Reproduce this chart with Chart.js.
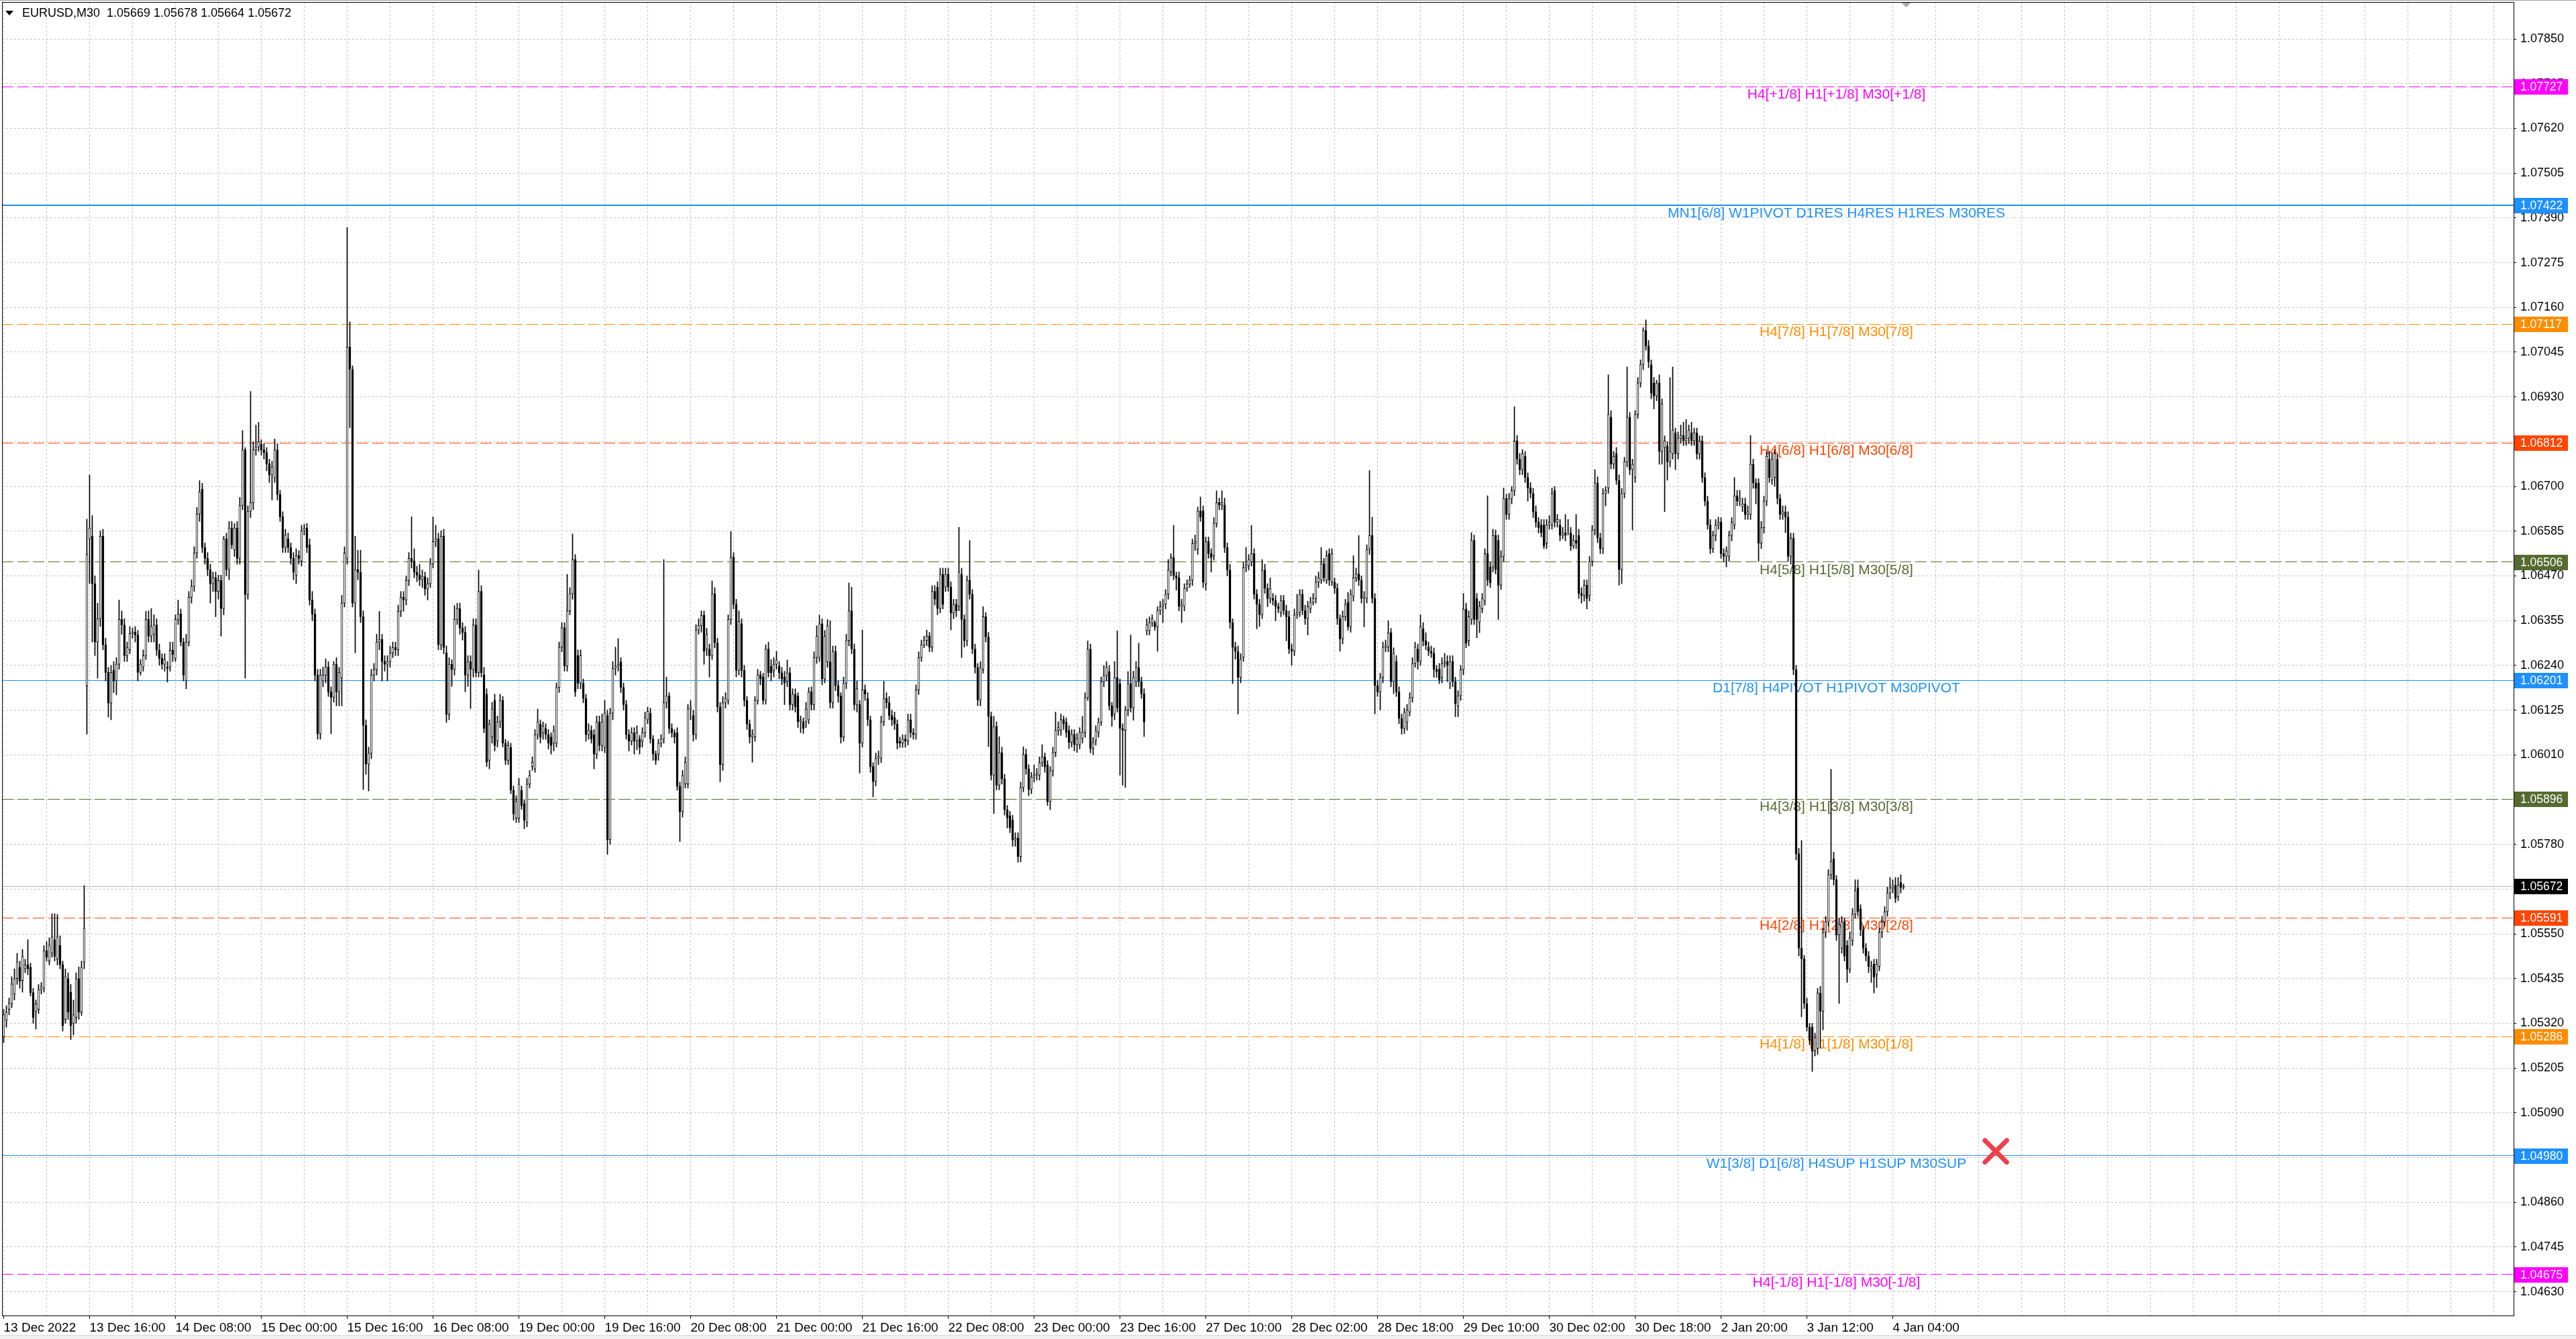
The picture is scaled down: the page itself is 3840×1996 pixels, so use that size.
<!DOCTYPE html>
<html><head><meta charset="utf-8">
<script src="https://cdn.jsdelivr.net/npm/chart.js@4.4.1/dist/chart.umd.min.js"></script>
<style>html,body{margin:0;padding:0;background:#fff;overflow:hidden}canvas{display:block}</style>
</head><body>
<canvas id="c" width="3840" height="1996" style="width:3840px;height:1996px"></canvas>
<script>
const symbolTitle = 'EURUSD,M30';
const lastBar = [1.05669, 1.05678, 1.05664, 1.05672];
const currentPrice = 1.05672;

const opens = [
1.05285,1.05328,1.05356,1.05371,1.05395,1.05435,1.05464,1.05430,1.05460,1.05470,
1.05464,1.05399,1.05350,1.05356,1.05407,1.05410,1.05507,1.05480,1.05500,1.05535,
1.05485,1.05520,1.05471,1.05330,1.05435,1.05400,1.05320,1.05335,1.05435,1.05349,
1.05478,1.06187,1.06565,1.06572,1.06450,1.06300,1.06360,1.06572,1.06293,1.06222,
1.06143,1.06228,1.06200,1.06243,1.06358,1.06344,1.06265,1.06280,1.06322,1.06326,
1.06318,1.06222,1.06236,1.06265,1.06358,1.06315,1.06320,1.06344,1.06279,1.06258,
1.06243,1.06236,1.06236,1.06279,1.06258,1.06358,1.06372,1.06300,1.06200,1.06300,
1.06415,1.06443,1.06529,1.06629,1.06693,1.06543,1.06515,1.06486,1.06450,1.06465,
1.06430,1.06458,1.06386,1.06565,1.06486,1.06593,1.06536,1.06593,1.06515,1.06651,
1.06794,1.06422,1.06636,1.06658,1.06794,1.06801,1.06808,1.06794,1.06787,1.06758,
1.06729,1.06722,1.06794,1.06679,1.06622,1.06543,1.06565,1.06543,1.06515,1.06472,
1.06522,1.06508,1.06586,1.06593,1.06550,1.06408,1.06372,1.06215,1.06064,1.06200,
1.06215,1.06236,1.06172,1.06158,1.06243,1.06172,1.06208,1.06400,1.06515,1.07058,
1.07001,1.06400,1.06486,1.06479,1.06365,1.06086,1.05986,1.06014,1.06215,1.06229,
1.06300,1.06307,1.06250,1.06243,1.06250,1.06272,1.06286,1.06280,1.06379,1.06415,
1.06408,1.06458,1.06515,1.06508,1.06479,1.06472,1.06460,1.06468,1.06436,1.06450,
1.06501,1.06558,1.06565,1.06293,1.06572,1.06272,1.06114,1.06243,1.06229,1.06358,
1.06386,1.06336,1.06325,1.06215,1.06250,1.06229,1.06344,1.06221,1.06430,1.06216,
1.06166,1.05996,1.06056,1.06150,1.06045,1.06095,1.06150,1.06040,1.05996,1.06029,
1.05919,1.05847,1.05847,1.05919,1.05885,1.05836,1.05935,1.05980,1.05974,1.06062,
1.06089,1.06067,1.06078,1.06062,1.06056,1.06040,1.06040,1.06183,1.06287,1.06337,
1.06238,1.06380,1.06424,1.06512,1.06265,1.06194,1.06194,1.06155,1.06062,1.06073,
1.06062,1.06012,1.06095,1.06034,1.06029,1.06111,1.05792,1.06117,1.06232,1.06238,
1.06249,1.06183,1.06139,1.06062,1.06045,1.06067,1.06045,1.06051,1.06045,1.06067,
1.06100,1.06117,1.06051,1.06012,1.06012,1.06040,1.06051,1.06144,1.06161,1.06078,
1.06067,1.06067,1.05929,1.05864,1.05935,1.05935,1.06128,1.06111,1.06062,1.06331,
1.06342,1.06369,1.06282,1.06282,1.06265,1.06424,1.06298,1.06133,1.05985,1.06144,
1.06150,1.06358,1.06518,1.06397,1.06227,1.06347,1.06227,1.06150,1.06089,1.06056,
1.06056,1.06150,1.06216,1.06210,1.06150,1.06282,1.06238,1.06227,1.06243,1.06238,
1.06221,1.06210,1.06199,1.06221,1.06139,1.06166,1.06161,1.06095,1.06095,1.06095,
1.06100,1.06172,1.06139,1.06260,1.06260,1.06347,1.06205,1.06249,1.06249,1.06144,
1.06276,1.06188,1.06161,1.06056,1.06194,1.06304,1.06380,1.06282,1.06139,1.06139,
1.06040,1.06177,1.06155,1.06100,1.05980,1.05941,1.06001,1.06001,1.06095,1.06155,
1.06144,1.06111,1.06106,1.06089,1.06045,1.06040,1.06051,1.06045,1.06100,1.06067,
1.06062,1.06177,1.06260,1.06293,1.06304,1.06315,1.06287,1.06430,1.06441,1.06386,
1.06474,1.06441,1.06474,1.06441,1.06375,1.06397,1.06391,1.06474,1.06358,1.06303,
1.06459,1.06423,1.06282,1.06235,1.06151,1.06230,1.06365,1.06313,1.06109,1.05958,
1.06083,1.05932,1.06016,1.05948,1.05869,1.05854,1.05843,1.05791,1.05796,1.05749,
1.05926,1.06011,1.05974,1.05921,1.05953,1.05958,1.05958,1.05990,1.06005,1.05984,
1.05890,1.05969,1.06016,1.06073,1.06073,1.06101,1.06094,1.06073,1.06042,1.06063,
1.06036,1.06036,1.06052,1.06068,1.06157,1.06282,1.06026,1.06047,1.06068,1.06094,
1.06198,1.06214,1.06224,1.06136,1.06115,1.06209,1.06193,1.06078,1.06073,1.06125,
1.06193,1.06131,1.06198,1.06235,1.06198,1.06167,1.06329,1.06329,1.06350,1.06350,
1.06339,1.06381,1.06391,1.06397,1.06423,1.06480,1.06517,1.06470,1.06465,1.06391,
1.06391,1.06438,1.06449,1.06459,1.06553,1.06538,1.06637,1.06637,1.06449,1.06558,
1.06527,1.06522,1.06605,1.06658,1.06652,1.06652,1.06543,1.06485,1.06350,1.06287,
1.06276,1.06209,1.06261,1.06491,1.06496,1.06506,1.06527,1.06423,1.06397,1.06370,
1.06485,1.06438,1.06412,1.06412,1.06407,1.06391,1.06376,1.06407,1.06381,1.06365,
1.06282,1.06276,1.06370,1.06376,1.06423,1.06381,1.06360,1.06386,1.06402,1.06412,
1.06454,1.06459,1.06501,1.06459,1.06527,1.06454,1.06454,1.06438,1.06360,1.06308,
1.06365,1.06402,1.06339,1.06417,1.06465,1.06475,1.06459,1.06412,1.06412,1.06538,
1.06574,1.06412,1.06188,1.06172,1.06209,1.06287,1.06287,1.06324,1.06198,1.06250,
1.06172,1.06104,1.06078,1.06094,1.06120,1.06157,1.06245,1.06282,1.06250,1.06334,
1.06303,1.06287,1.06276,1.06271,1.06230,1.06230,1.06209,1.06245,1.06250,1.06193,
1.06250,1.06198,1.06135,1.06162,1.06229,1.06385,1.06304,1.06358,1.06561,1.06412,
1.06351,1.06385,1.06405,1.06527,1.06493,1.06493,1.06574,1.06561,1.06446,1.06520,
1.06669,1.06628,1.06669,1.06689,1.06817,1.06770,1.06743,1.06777,1.06723,1.06696,
1.06682,1.06635,1.06608,1.06601,1.06601,1.06554,1.06601,1.06601,1.06689,1.06608,
1.06601,1.06574,1.06581,1.06588,1.06581,1.06547,1.06561,1.06574,1.06425,1.06419,
1.06446,1.06419,1.06507,1.06588,1.06709,1.06567,1.06540,1.06682,1.06696,1.06878,
1.06757,1.06784,1.06716,1.06486,1.06682,1.06763,1.06878,1.06743,1.06723,1.06885,
1.06966,1.07013,1.07101,1.07061,1.07013,1.06966,1.06932,1.06966,1.06790,1.06800,
1.06804,1.06763,1.06784,1.06838,1.06784,1.06824,1.06831,1.06817,1.06824,1.06838,
1.06817,1.06838,1.06784,1.06817,1.06723,1.06662,1.06601,1.06540,1.06574,1.06601,
1.06608,1.06527,1.06520,1.06520,1.06574,1.06601,1.06676,1.06662,1.06648,1.06655,
1.06628,1.06628,1.06757,1.06709,1.06709,1.06554,1.06594,1.06662,1.06770,1.06716,
1.06723,1.06770,1.06669,1.06628,1.06635,1.06621,1.06520,1.06567,1.06229,1.05756,
1.05513,1.05486,1.05371,1.05310,1.05310,1.05249,1.05256,1.05398,1.05351,1.05554,
1.05581,1.05702,1.05743,1.05689,1.05547,1.05513,1.05581,1.05520,1.05459,1.05533,
1.05601,1.05668,1.05614,1.05560,1.05513,1.05493,1.05459,1.05472,1.05445,1.05466,
1.05554,1.05581,1.05607,1.05655,1.05668,1.05675,1.05645,1.05682,1.05669
];

const highs = [
1.05356,1.05365,1.05385,1.05440,1.05460,1.05500,1.05480,1.05510,1.05485,1.05535,
1.05475,1.05410,1.05380,1.05420,1.05425,1.05520,1.05530,1.05540,1.05602,1.05602,
1.05600,1.05545,1.05480,1.05460,1.05450,1.05420,1.05380,1.05450,1.05465,1.05480,
1.05674,1.06616,1.06729,1.06625,1.06470,1.06400,1.06586,1.06590,1.06310,1.06235,
1.06240,1.06250,1.06260,1.06408,1.06380,1.06360,1.06300,1.06340,1.06336,1.06340,
1.06330,1.06255,1.06280,1.06379,1.06380,1.06386,1.06370,1.06360,1.06295,1.06270,
1.06270,1.06250,1.06300,1.06300,1.06370,1.06408,1.06385,1.06310,1.06320,1.06430,
1.06460,1.06545,1.06646,1.06715,1.06708,1.06555,1.06530,1.06500,1.06480,1.06480,
1.06472,1.06472,1.06572,1.06580,1.06610,1.06610,1.06605,1.06610,1.06672,1.06844,
1.06800,1.06650,1.06944,1.06815,1.06858,1.06865,1.06820,1.06810,1.06800,1.06770,
1.06765,1.06822,1.06810,1.06690,1.06635,1.06590,1.06580,1.06555,1.06530,1.06540,
1.06535,1.06600,1.06603,1.06605,1.06565,1.06430,1.06385,1.06230,1.06230,1.06236,
1.06257,1.06250,1.06185,1.06250,1.06260,1.06235,1.06420,1.06545,1.07366,1.07123,
1.07010,1.06572,1.06536,1.06536,1.06380,1.06100,1.06030,1.06230,1.06245,1.06320,
1.06379,1.06320,1.06265,1.06265,1.06290,1.06300,1.06300,1.06395,1.06430,1.06430,
1.06470,1.06530,1.06622,1.06540,1.06495,1.06500,1.06485,1.06480,1.06465,1.06515,
1.06622,1.06600,1.06580,1.06586,1.06590,1.06290,1.06260,1.06255,1.06394,1.06400,
1.06400,1.06350,1.06340,1.06265,1.06265,1.06360,1.06360,1.06485,1.06445,1.06235,
1.06180,1.06100,1.06145,1.06166,1.06110,1.06166,1.06160,1.06050,1.06045,1.06040,
1.05930,1.05905,1.05950,1.05930,1.05895,1.05950,1.05970,1.06005,1.06075,1.06128,
1.06100,1.06095,1.06090,1.06075,1.06067,1.06085,1.06195,1.06300,1.06350,1.06350,
1.06474,1.06440,1.06578,1.06525,1.06280,1.06280,1.06205,1.06166,1.06090,1.06085,
1.06075,1.06110,1.06110,1.06115,1.06150,1.06125,1.06130,1.06250,1.06287,1.06309,
1.06260,1.06195,1.06150,1.06075,1.06080,1.06080,1.06085,1.06060,1.06080,1.06120,
1.06133,1.06130,1.06060,1.06020,1.06050,1.06062,1.06512,1.06210,1.06170,1.06090,
1.06075,1.06080,1.05940,1.05970,1.06005,1.06140,1.06150,1.06125,1.06345,1.06360,
1.06380,1.06380,1.06335,1.06295,1.06457,1.06440,1.06310,1.06145,1.06160,1.06170,
1.06370,1.06584,1.06530,1.06410,1.06380,1.06360,1.06240,1.06160,1.06100,1.06075,
1.06160,1.06230,1.06225,1.06220,1.06293,1.06300,1.06255,1.06260,1.06276,1.06250,
1.06235,1.06225,1.06254,1.06235,1.06180,1.06180,1.06170,1.06110,1.06105,1.06145,
1.06183,1.06185,1.06275,1.06342,1.06369,1.06360,1.06330,1.06358,1.06355,1.06290,
1.06290,1.06200,1.06170,1.06210,1.06320,1.06452,1.06441,1.06295,1.06200,1.06150,
1.06331,1.06190,1.06170,1.06110,1.05990,1.06015,1.06020,1.06110,1.06199,1.06170,
1.06160,1.06125,1.06120,1.06100,1.06056,1.06062,1.06062,1.06115,1.06115,1.06078,
1.06190,1.06275,1.06305,1.06315,1.06331,1.06325,1.06445,1.06445,1.06455,1.06490,
1.06490,1.06490,1.06490,1.06455,1.06410,1.06410,1.06595,1.06490,1.06370,1.06470,
1.06561,1.06435,1.06295,1.06245,1.06250,1.06391,1.06376,1.06325,1.06120,1.06109,
1.06095,1.06057,1.06030,1.05960,1.05880,1.05865,1.05855,1.05810,1.05810,1.05940,
1.06031,1.06025,1.05985,1.05965,1.05984,1.05975,1.06005,1.06036,1.06015,1.05995,
1.05980,1.06030,1.06120,1.06095,1.06115,1.06110,1.06105,1.06085,1.06075,1.06075,
1.06065,1.06080,1.06109,1.06170,1.06303,1.06295,1.06055,1.06085,1.06105,1.06210,
1.06240,1.06250,1.06240,1.06145,1.06250,1.06329,1.06205,1.06090,1.06135,1.06224,
1.06318,1.06225,1.06250,1.06297,1.06210,1.06180,1.06360,1.06365,1.06370,1.06355,
1.06391,1.06405,1.06410,1.06435,1.06512,1.06527,1.06600,1.06480,1.06480,1.06410,
1.06450,1.06460,1.06470,1.06565,1.06575,1.06647,1.06673,1.06650,1.06570,1.06570,
1.06540,1.06620,1.06689,1.06670,1.06689,1.06670,1.06555,1.06500,1.06360,1.06300,
1.06290,1.06270,1.06505,1.06543,1.06525,1.06600,1.06540,1.06435,1.06410,1.06512,
1.06500,1.06450,1.06465,1.06425,1.06420,1.06400,1.06420,1.06420,1.06395,1.06380,
1.06295,1.06385,1.06423,1.06435,1.06435,1.06395,1.06405,1.06415,1.06425,1.06470,
1.06480,1.06543,1.06515,1.06535,1.06540,1.06540,1.06465,1.06450,1.06370,1.06380,
1.06410,1.06428,1.06435,1.06522,1.06490,1.06574,1.06470,1.06430,1.06550,1.06741,
1.06621,1.06425,1.06200,1.06220,1.06300,1.06305,1.06355,1.06335,1.06285,1.06265,
1.06185,1.06115,1.06130,1.06140,1.06170,1.06260,1.06300,1.06295,1.06370,1.06350,
1.06324,1.06300,1.06290,1.06285,1.06240,1.06245,1.06260,1.06271,1.06265,1.06265,
1.06265,1.06210,1.06175,1.06240,1.06425,1.06400,1.06380,1.06581,1.06575,1.06425,
1.06405,1.06425,1.06540,1.06676,1.06505,1.06590,1.06588,1.06575,1.06535,1.06696,
1.06680,1.06682,1.06700,1.06905,1.06831,1.06785,1.06795,1.06790,1.06735,1.06710,
1.06695,1.06650,1.06620,1.06615,1.06615,1.06615,1.06625,1.06696,1.06700,1.06628,
1.06615,1.06595,1.06628,1.06615,1.06595,1.06575,1.06628,1.06590,1.06440,1.06460,
1.06460,1.06520,1.06600,1.06743,1.06725,1.06580,1.06695,1.06700,1.06987,1.06895,
1.06790,1.06800,1.06730,1.06695,1.06775,1.07007,1.06890,1.06770,1.06895,1.06980,
1.07025,1.07108,1.07128,1.07075,1.07025,1.06980,1.06973,1.06987,1.06925,1.06830,
1.06815,1.06980,1.07007,1.06850,1.06840,1.06858,1.06865,1.06872,1.06858,1.06865,
1.06850,1.06850,1.06830,1.06830,1.06735,1.06675,1.06615,1.06585,1.06615,1.06621,
1.06620,1.06540,1.06545,1.06585,1.06620,1.06723,1.06690,1.06690,1.06670,1.06670,
1.06650,1.06831,1.06770,1.06720,1.06720,1.06610,1.06675,1.06790,1.06790,1.06785,
1.06795,1.06784,1.06680,1.06650,1.06650,1.06635,1.06580,1.06580,1.06240,1.05770,
1.05790,1.05495,1.05385,1.05320,1.05320,1.05295,1.05410,1.05415,1.05565,1.05595,
1.05715,1.05973,1.05760,1.05700,1.05590,1.05595,1.05590,1.05533,1.05555,1.05615,
1.05689,1.05689,1.05625,1.05570,1.05525,1.05505,1.05480,1.05485,1.05485,1.05565,
1.05595,1.05620,1.05670,1.05695,1.05689,1.05695,1.05695,1.05702,1.05678
];

const lows = [
1.05270,1.05310,1.05342,1.05360,1.05380,1.05420,1.05410,1.05400,1.05450,1.05445,
1.05390,1.05320,1.05305,1.05345,1.05395,1.05400,1.05480,1.05470,1.05490,1.05480,
1.05470,1.05460,1.05300,1.05320,1.05330,1.05278,1.05290,1.05320,1.05330,1.05340,
1.05460,1.06063,1.06450,1.06300,1.06265,1.06207,1.06340,1.06280,1.06200,1.06107,
1.06100,1.06170,1.06164,1.06230,1.06320,1.06250,1.06250,1.06270,1.06310,1.06300,
1.06200,1.06215,1.06225,1.06255,1.06300,1.06300,1.06300,1.06265,1.06240,1.06230,
1.06225,1.06197,1.06225,1.06250,1.06250,1.06345,1.06290,1.06200,1.06180,1.06290,
1.06400,1.06430,1.06515,1.06610,1.06530,1.06500,1.06470,1.06400,1.06430,1.06365,
1.06410,1.06315,1.06370,1.06470,1.06460,1.06540,1.06520,1.06500,1.06500,1.06640,
1.06207,1.06410,1.06620,1.06640,1.06780,1.06790,1.06780,1.06770,1.06740,1.06710,
1.06665,1.06710,1.06665,1.06610,1.06530,1.06530,1.06530,1.06500,1.06460,1.06450,
1.06500,1.06495,1.06575,1.06530,1.06395,1.06355,1.06200,1.06050,1.06050,1.06185,
1.06195,1.06160,1.06064,1.06145,1.06136,1.06136,1.06136,1.06390,1.06500,1.06851,
1.06390,1.06272,1.06460,1.06350,1.05921,1.05960,1.05917,1.06000,1.06200,1.06215,
1.06280,1.06200,1.06225,1.06200,1.06235,1.06260,1.06265,1.06265,1.06365,1.06379,
1.06395,1.06445,1.06490,1.06465,1.06455,1.06445,1.06440,1.06420,1.06408,1.06440,
1.06490,1.06545,1.06280,1.06280,1.06270,1.06093,1.06100,1.06186,1.06215,1.06345,
1.06320,1.06305,1.06172,1.06186,1.06129,1.06210,1.06210,1.06210,1.06210,1.06067,
1.05980,1.05974,1.06040,1.06020,1.06030,1.06080,1.06030,1.05985,1.05985,1.05910,
1.05842,1.05836,1.05836,1.05870,1.05820,1.05825,1.05925,1.05970,1.05965,1.06050,
1.06040,1.06050,1.06050,1.06025,1.06012,1.06020,1.06030,1.06170,1.06275,1.06225,
1.06225,1.06370,1.06410,1.06160,1.06180,1.06180,1.06144,1.06045,1.06050,1.06040,
1.05974,1.06000,1.06020,1.06020,1.06015,1.05754,1.05780,1.06100,1.06215,1.06225,
1.06170,1.06125,1.06050,1.06020,1.06035,1.06012,1.06023,1.06012,1.06030,1.06055,
1.06090,1.06040,1.05996,1.05985,1.05996,1.06030,1.06040,1.06130,1.06065,1.06055,
1.06040,1.05919,1.05787,1.05850,1.05925,1.05925,1.06100,1.06045,1.06050,1.06320,
1.06325,1.06243,1.06265,1.06210,1.06255,1.06285,1.06120,1.05941,1.05970,1.06130,
1.06140,1.06345,1.06385,1.06210,1.06215,1.06210,1.06135,1.06075,1.06040,1.05991,
1.06045,1.06140,1.06190,1.06140,1.06140,1.06210,1.06200,1.06210,1.06230,1.06205,
1.06190,1.06139,1.06185,1.06125,1.06125,1.06120,1.06080,1.06067,1.06065,1.06080,
1.06090,1.06125,1.06125,1.06245,1.06250,1.06190,1.06195,1.06235,1.06130,1.06130,
1.06175,1.06145,1.06040,1.06045,1.06180,1.06290,1.06270,1.06125,1.06120,1.05963,
1.06030,1.06150,1.06085,1.05965,1.05902,1.05930,1.05985,1.05990,1.06085,1.06130,
1.06100,1.06085,1.06075,1.06025,1.06029,1.06029,1.06030,1.06035,1.06055,1.06050,
1.06050,1.06165,1.06250,1.06285,1.06290,1.06275,1.06275,1.06395,1.06370,1.06375,
1.06385,1.06430,1.06430,1.06331,1.06360,1.06365,1.06380,1.06260,1.06287,1.06290,
1.06410,1.06270,1.06220,1.06136,1.06136,1.06220,1.06300,1.06031,1.05945,1.05859,
1.05920,1.05920,1.05935,1.05855,1.05822,1.05810,1.05775,1.05775,1.05734,1.05735,
1.05915,1.05960,1.05905,1.05910,1.05940,1.05945,1.05945,1.05980,1.05965,1.05880,
1.05869,1.05955,1.06005,1.06060,1.06060,1.06075,1.06055,1.06026,1.06030,1.06020,
1.06016,1.06025,1.06040,1.06055,1.06150,1.06015,1.06010,1.06035,1.06055,1.06085,
1.06185,1.06200,1.06125,1.06083,1.06100,1.06120,1.05958,1.05932,1.05926,1.06110,
1.06120,1.06099,1.06185,1.06185,1.06155,1.06057,1.06318,1.06318,1.06340,1.06330,
1.06276,1.06370,1.06350,1.06385,1.06410,1.06470,1.06460,1.06433,1.06380,1.06350,
1.06380,1.06430,1.06440,1.06445,1.06535,1.06525,1.06610,1.06440,1.06433,1.06515,
1.06480,1.06510,1.06595,1.06640,1.06640,1.06530,1.06470,1.06335,1.06193,1.06256,
1.06115,1.06195,1.06250,1.06480,1.06485,1.06495,1.06410,1.06334,1.06340,1.06360,
1.06425,1.06391,1.06400,1.06395,1.06355,1.06375,1.06365,1.06370,1.06303,1.06270,
1.06240,1.06265,1.06360,1.06365,1.06370,1.06345,1.06318,1.06375,1.06395,1.06400,
1.06440,1.06450,1.06455,1.06450,1.06445,1.06445,1.06425,1.06345,1.06276,1.06295,
1.06355,1.06330,1.06325,1.06405,1.06455,1.06445,1.06400,1.06339,1.06400,1.06525,
1.06400,1.06115,1.06160,1.06125,1.06195,1.06275,1.06275,1.06185,1.06167,1.06160,
1.06090,1.06063,1.06065,1.06073,1.06110,1.06145,1.06235,1.06230,1.06240,1.06290,
1.06280,1.06265,1.06260,1.06209,1.06209,1.06193,1.06195,1.06235,1.06198,1.06180,
1.06185,1.06108,1.06108,1.06150,1.06216,1.06285,1.06290,1.06345,1.06345,1.06311,
1.06324,1.06375,1.06395,1.06445,1.06440,1.06480,1.06475,1.06358,1.06435,1.06507,
1.06615,1.06615,1.06655,1.06676,1.06757,1.06730,1.06730,1.06710,1.06662,1.06670,
1.06620,1.06595,1.06580,1.06570,1.06540,1.06540,1.06590,1.06590,1.06595,1.06595,
1.06560,1.06565,1.06560,1.06575,1.06535,1.06540,1.06540,1.06412,1.06400,1.06405,
1.06385,1.06405,1.06495,1.06575,1.06555,1.06527,1.06527,1.06650,1.06682,1.06745,
1.06745,1.06705,1.06446,1.06450,1.06670,1.06750,1.06730,1.06588,1.06710,1.06875,
1.06955,1.07000,1.07050,1.07005,1.06925,1.06899,1.06920,1.06757,1.06757,1.06635,
1.06716,1.06750,1.06770,1.06743,1.06770,1.06810,1.06805,1.06805,1.06810,1.06805,
1.06805,1.06770,1.06770,1.06710,1.06650,1.06590,1.06527,1.06530,1.06560,1.06590,
1.06515,1.06507,1.06493,1.06507,1.06560,1.06590,1.06650,1.06650,1.06635,1.06615,
1.06615,1.06615,1.06695,1.06655,1.06507,1.06540,1.06580,1.06650,1.06710,1.06705,
1.06700,1.06655,1.06615,1.06615,1.06581,1.06507,1.06500,1.06216,1.05740,1.05493,
1.05337,1.05358,1.05300,1.05265,1.05196,1.05236,1.05240,1.05256,1.05303,1.05540,
1.05570,1.05690,1.05675,1.05533,1.05371,1.05500,1.05480,1.05425,1.05450,1.05520,
1.05590,1.05595,1.05545,1.05500,1.05480,1.05450,1.05425,1.05398,1.05412,1.05455,
1.05540,1.05570,1.05595,1.05640,1.05655,1.05630,1.05635,1.05655,1.05664
];

const closes = [
1.05342,1.05349,1.05371,1.05421,1.05435,1.05478,1.05428,1.05492,1.05470,1.05460,
1.05399,1.05335,1.05370,1.05407,1.05414,1.05507,1.05490,1.05521,1.05542,1.05492,
1.05542,1.05471,1.05314,1.05440,1.05349,1.05314,1.05342,1.05435,1.05349,1.05464,
1.05564,1.06525,1.06593,1.06450,1.06300,1.06360,1.06572,1.06293,1.06222,1.06143,
1.06222,1.06200,1.06243,1.06358,1.06344,1.06265,1.06286,1.06322,1.06326,1.06318,
1.06222,1.06243,1.06265,1.06358,1.06315,1.06340,1.06344,1.06279,1.06258,1.06243,
1.06255,1.06232,1.06279,1.06268,1.06358,1.06372,1.06300,1.06215,1.06300,1.06415,
1.06443,1.06529,1.06629,1.06686,1.06543,1.06515,1.06486,1.06450,1.06465,1.06430,
1.06458,1.06386,1.06565,1.06486,1.06593,1.06550,1.06593,1.06515,1.06651,1.06794,
1.06422,1.06636,1.06658,1.06794,1.06801,1.06815,1.06794,1.06787,1.06758,1.06729,
1.06750,1.06794,1.06679,1.06622,1.06543,1.06575,1.06543,1.06515,1.06479,1.06522,
1.06515,1.06586,1.06593,1.06543,1.06408,1.06372,1.06215,1.06064,1.06215,1.06215,
1.06236,1.06172,1.06158,1.06243,1.06172,1.06222,1.06400,1.06529,1.07058,1.07001,
1.06400,1.06486,1.06479,1.06365,1.06086,1.05986,1.06014,1.06215,1.06229,1.06300,
1.06307,1.06250,1.06243,1.06250,1.06272,1.06286,1.06280,1.06379,1.06415,1.06408,
1.06458,1.06515,1.06508,1.06479,1.06472,1.06460,1.06468,1.06436,1.06450,1.06501,
1.06558,1.06565,1.06293,1.06572,1.06286,1.06114,1.06243,1.06229,1.06358,1.06386,
1.06336,1.06325,1.06215,1.06250,1.06230,1.06344,1.06221,1.06430,1.06221,1.06078,
1.05991,1.06089,1.06128,1.06034,1.06095,1.06150,1.06040,1.05996,1.06034,1.05919,
1.05858,1.05891,1.05935,1.05880,1.05842,1.05935,1.05957,1.05991,1.06062,1.06095,
1.06056,1.06084,1.06062,1.06040,1.06034,1.06073,1.06183,1.06287,1.06337,1.06238,
1.06380,1.06424,1.06512,1.06172,1.06194,1.06265,1.06155,1.06062,1.06073,1.06051,
1.06012,1.06095,1.06034,1.06095,1.06117,1.05792,1.06117,1.06232,1.06238,1.06243,
1.06183,1.06139,1.06062,1.06045,1.06067,1.06045,1.06067,1.06029,1.06067,1.06106,
1.06122,1.06051,1.06012,1.05996,1.06040,1.06051,1.06144,1.06161,1.06078,1.06067,
1.06056,1.05929,1.05864,1.05957,1.05991,1.06128,1.06133,1.06062,1.06331,1.06342,
1.06369,1.06276,1.06320,1.06265,1.06424,1.06298,1.06133,1.05985,1.06144,1.06155,
1.06358,1.06518,1.06397,1.06227,1.06353,1.06227,1.06150,1.06089,1.06056,1.06062,
1.06150,1.06216,1.06205,1.06150,1.06282,1.06221,1.06221,1.06243,1.06254,1.06221,
1.06205,1.06194,1.06221,1.06139,1.06166,1.06133,1.06095,1.06100,1.06078,1.06128,
1.06172,1.06139,1.06260,1.06315,1.06347,1.06205,1.06315,1.06342,1.06144,1.06276,
1.06188,1.06161,1.06056,1.06194,1.06304,1.06380,1.06282,1.06139,1.06180,1.06040,
1.06177,1.06166,1.06100,1.05980,1.05941,1.06001,1.06007,1.06095,1.06155,1.06144,
1.06111,1.06100,1.06089,1.06040,1.06040,1.06051,1.06045,1.06100,1.06067,1.06062,
1.06177,1.06260,1.06293,1.06304,1.06315,1.06287,1.06430,1.06410,1.06386,1.06474,
1.06397,1.06474,1.06441,1.06375,1.06397,1.06380,1.06480,1.06358,1.06304,1.06459,
1.06423,1.06282,1.06235,1.06151,1.06235,1.06365,1.06313,1.06109,1.05958,1.06083,
1.05932,1.06016,1.05948,1.05869,1.05848,1.05822,1.05791,1.05796,1.05749,1.05926,
1.06011,1.05974,1.05921,1.05953,1.05958,1.05963,1.05990,1.06005,1.05979,1.05890,
1.05969,1.06016,1.06073,1.06080,1.06101,1.06090,1.06068,1.06042,1.06063,1.06036,
1.06052,1.06068,1.06068,1.06157,1.06282,1.06026,1.06042,1.06073,1.06094,1.06198,
1.06214,1.06235,1.06136,1.06109,1.06209,1.06131,1.06078,1.06073,1.06125,1.06193,
1.06131,1.06209,1.06235,1.06198,1.06167,1.06094,1.06345,1.06350,1.06360,1.06339,
1.06381,1.06391,1.06397,1.06423,1.06485,1.06517,1.06470,1.06465,1.06391,1.06397,
1.06438,1.06449,1.06459,1.06553,1.06558,1.06637,1.06621,1.06454,1.06558,1.06527,
1.06517,1.06605,1.06658,1.06652,1.06658,1.06543,1.06485,1.06350,1.06287,1.06276,
1.06209,1.06256,1.06491,1.06498,1.06512,1.06527,1.06423,1.06397,1.06370,1.06485,
1.06438,1.06412,1.06438,1.06407,1.06391,1.06386,1.06407,1.06381,1.06365,1.06282,
1.06276,1.06370,1.06376,1.06423,1.06381,1.06360,1.06391,1.06402,1.06412,1.06454,
1.06465,1.06501,1.06465,1.06522,1.06459,1.06527,1.06438,1.06360,1.06308,1.06365,
1.06397,1.06339,1.06423,1.06465,1.06475,1.06459,1.06412,1.06417,1.06538,1.06574,
1.06412,1.06188,1.06172,1.06209,1.06287,1.06292,1.06324,1.06198,1.06271,1.06172,
1.06104,1.06078,1.06120,1.06125,1.06157,1.06245,1.06287,1.06250,1.06339,1.06303,
1.06292,1.06276,1.06271,1.06230,1.06224,1.06203,1.06245,1.06250,1.06240,1.06250,
1.06198,1.06142,1.06162,1.06229,1.06385,1.06297,1.06365,1.06561,1.06358,1.06358,
1.06392,1.06412,1.06527,1.06459,1.06452,1.06574,1.06486,1.06446,1.06520,1.06669,
1.06628,1.06669,1.06689,1.06817,1.06770,1.06743,1.06784,1.06723,1.06696,1.06682,
1.06635,1.06608,1.06594,1.06581,1.06547,1.06601,1.06608,1.06682,1.06608,1.06615,
1.06574,1.06581,1.06574,1.06590,1.06547,1.06561,1.06554,1.06425,1.06419,1.06446,
1.06412,1.06507,1.06588,1.06709,1.06567,1.06540,1.06682,1.06689,1.06885,1.06757,
1.06777,1.06716,1.06486,1.06682,1.06763,1.06878,1.06743,1.06757,1.06885,1.06966,
1.07013,1.07101,1.07061,1.07020,1.06939,1.06932,1.06966,1.06790,1.06912,1.06817,
1.06763,1.06790,1.06845,1.06784,1.06824,1.06831,1.06817,1.06824,1.06845,1.06817,
1.06838,1.06784,1.06817,1.06723,1.06662,1.06601,1.06540,1.06574,1.06601,1.06608,
1.06527,1.06520,1.06534,1.06574,1.06608,1.06676,1.06662,1.06669,1.06655,1.06628,
1.06635,1.06757,1.06709,1.06695,1.06554,1.06594,1.06662,1.06777,1.06723,1.06770,
1.06784,1.06669,1.06628,1.06635,1.06621,1.06520,1.06567,1.06229,1.05756,1.05513,
1.05486,1.05371,1.05310,1.05276,1.05249,1.05283,1.05398,1.05351,1.05554,1.05581,
1.05702,1.05736,1.05689,1.05547,1.05574,1.05581,1.05493,1.05459,1.05540,1.05601,
1.05661,1.05607,1.05560,1.05513,1.05493,1.05466,1.05466,1.05439,1.05472,1.05554,
1.05581,1.05607,1.05655,1.05668,1.05675,1.05641,1.05675,1.05669,1.05672
];

const xTickLabels = ['13 Dec 2022','13 Dec 16:00','14 Dec 08:00','15 Dec 00:00','15 Dec 16:00','16 Dec 08:00',
  '19 Dec 00:00','19 Dec 16:00','20 Dec 08:00','21 Dec 00:00','21 Dec 16:00','22 Dec 08:00','23 Dec 00:00',
  '23 Dec 16:00','27 Dec 10:00','28 Dec 02:00','28 Dec 18:00','29 Dec 10:00','30 Dec 02:00','30 Dec 18:00',
  '2 Jan 20:00','3 Jan 12:00','4 Jan 04:00'];

const yTicks = [1.04630,1.04745,1.04860,1.04975,1.05090,1.05205,1.05320,1.05435,1.05550,1.05665,
  1.05780,1.05895,1.06010,1.06125,1.06240,1.06355,1.06470,1.06585,1.06700,1.06815,1.06930,1.07045,
  1.07160,1.07275,1.07390,1.07505,1.07620,1.07735,1.07850];

const levelValues = [1.07727,1.07422,1.07117,1.06812,1.06506,1.06201,1.05896,1.05591,1.05286,1.04980,1.04675];
const levelLabels = ['H4[+1/8] H1[+1/8] M30[+1/8]','MN1[6/8] W1PIVOT D1RES H4RES H1RES M30RES',
  'H4[7/8] H1[7/8] M30[7/8]','H4[6/8] H1[6/8] M30[6/8]','H4[5/8] H1[5/8] M30[5/8]',
  'D1[7/8] H4PIVOT H1PIVOT M30PIVOT','H4[3/8] H1[3/8] M30[3/8]','H4[2/8] H1[2/8] M30[2/8]',
  'H4[1/8] H1[1/8] M30[1/8]','W1[3/8] D1[6/8] H4SUP H1SUP M30SUP','H4[-1/8] H1[-1/8] M30[-1/8]'];
const levelColors = ['#ff00ff','#1e90ff','#ff8c00','#ff4500','#556b2f','#1e90ff','#556b2f','#ff4500','#ff8c00','#1e90ff','#ff00ff'];
const levelWidths = [1,2,1,1,1,1,1,1,1,1,1];
const levelDashed = [true,false,true,true,true,false,true,true,true,false,true];
const levelLabelBar = 683;

const markX = [742.4];
const markY = [1.04991];

// ---------- chart ----------
Chart.defaults.font.family = '"Liberation Sans", Arial, sans-serif';
const X_MIN = -0.625, X_MAX = 935.375;
const Y_MIN = 1.04569, Y_MAX = 1.07945;
const N = Math.min(opens.length, highs.length, lows.length, closes.length);
const idx = Array.from({length: N}, (_, i) => i);
const wickData = idx.map(i => ({x: i, y: [lows[i], highs[i]]}));
const bodyData = idx.map(i => ({x: i, y: [opens[i], closes[i]]}));
const bodyFill = idx.map(i => closes[i] >= opens[i] ? '#ffffff' : '#000000');

const datasets = [];
levelValues.forEach((v, k) => datasets.push({
  type: 'line', label: 'lvl' + k, _lv: v,
  data: [{x: X_MIN, y: v}, {x: X_MAX, y: v}],
  borderColor: levelColors[k], borderWidth: levelWidths[k],
  borderDash: levelDashed[k] ? [17, 6] : [], pointRadius: 0, order: 10
}));
datasets.push({type: 'line', label: 'current', _lv: currentPrice,
  data: [{x: X_MIN, y: currentPrice}, {x: X_MAX, y: currentPrice}],
  borderColor: '#b4b4b4', borderWidth: 1, pointRadius: 0, order: 9});
datasets.push({type: 'bar', label: 'wicks', data: wickData, backgroundColor: '#000000',
  borderWidth: 0, barThickness: 1, grouped: false, order: 2});
datasets.push({type: 'bar', label: 'bodies', data: bodyData, backgroundColor: bodyFill,
  borderColor: '#000000', borderWidth: 1, borderSkipped: false, barThickness: 3,
  minBarLength: 1, grouped: false, order: 1});
datasets.push({type: 'line', label: 'mark', data: markX.map((x, i) => ({x: x, y: markY[i]})),
  showLine: false, pointStyle: 'crossRot', pointRadius: 23, pointBorderWidth: 7,
  pointBorderColor: '#f0404c', pointBackgroundColor: 'rgba(0,0,0,0)', order: 0, clip: false});

const deco = {
  id: 'deco',
  beforeDatasetDraw(chart, args) {
    const ds = chart.data.datasets[args.index];
    if (ds._lv !== undefined) {
      const py = chart.scales.y.getPixelForValue(ds._lv);
      const w = ds.borderWidth || 1;
      const target = (w % 2 === 1) ? Math.floor(py) + 0.5 : Math.round(py);
      chart.ctx.save();
      chart.ctx.translate(0, target - py);
    }
    if (ds.label === 'mark') { chart.ctx.save(); chart.ctx.lineCap = 'round'; }
  },
  afterDatasetDraw(chart, args) {
    const ds = chart.data.datasets[args.index];
    if (ds._lv !== undefined) chart.ctx.restore();
    if (ds.label === 'mark') chart.ctx.restore();
    if (ds.label === 'current') {
      const ctx = chart.ctx, xs = chart.scales.x, ys = chart.scales.y;
      ctx.save();
      ctx.font = '21px "Liberation Sans", Arial, sans-serif';
      ctx.textAlign = 'center';
      ctx.textBaseline = 'middle';
      const cx = xs.getPixelForValue(levelLabelBar);
      levelValues.forEach((v, k) => {
        ctx.fillStyle = levelColors[k];
        ctx.fillText(levelLabels[k], cx, Math.round(ys.getPixelForValue(v)) + 12);
      });
      ctx.restore();
    }
  },
  afterDraw(chart) {
    const ctx = chart.ctx, ys = chart.scales.y, a = chart.chartArea;
    ctx.save();
    ctx.fillStyle = '#f0f0f0';
    ctx.fillRect(0, 1991, 3840, 5);
    ctx.strokeStyle = '#a0a0a0'; ctx.lineWidth = 1;
    ctx.beginPath(); ctx.moveTo(0, 0.5); ctx.lineTo(3840, 0.5); ctx.stroke();
    ctx.strokeStyle = '#d8d8d8';
    ctx.beginPath(); ctx.moveTo(0, 1990.5); ctx.lineTo(3840, 1990.5); ctx.stroke();
    ctx.strokeStyle = '#000000';
    ctx.strokeRect(Math.round(a.left) + 0.5, Math.round(a.top) + 0.5,
      Math.round(a.right - a.left), Math.round(a.bottom - a.top));
    ctx.fillStyle = '#a8a8a8';
    const sx = chart.scales.x.getPixelForValue(709);
    ctx.beginPath(); ctx.moveTo(sx - 7, 4); ctx.lineTo(sx + 7, 4); ctx.lineTo(sx, 11); ctx.closePath(); ctx.fill();
    ctx.font = '17.5px "Liberation Sans", Arial, sans-serif';
    ctx.textBaseline = 'middle'; ctx.textAlign = 'left';
    const boxes = levelValues.map((v, k) => [v, levelColors[k]]).concat([[currentPrice, '#000000']]);
    boxes.forEach(([v, col]) => {
      const py = Math.round(ys.getPixelForValue(v));
      ctx.fillStyle = col;
      ctx.fillRect(Math.round(a.right) + 1, py - 11, 80, 23);
      ctx.fillStyle = '#ffffff';
      ctx.fillText(v.toFixed(5), Math.round(a.right) + 10, py + 1);
    });
    ctx.fillStyle = '#000000';
    ctx.beginPath(); ctx.moveTo(8, 16); ctx.lineTo(20, 16); ctx.lineTo(14, 23); ctx.closePath(); ctx.fill();
    ctx.font = '18px "Liberation Sans", Arial, sans-serif';
    ctx.fillText(symbolTitle + '  ' + lastBar.map(v => v.toFixed(5)).join(' '), 33, 20);
    ctx.restore();
  }
};

const zeroPad = s => { s.paddingLeft = 0; s.paddingRight = 0; s.paddingTop = 0; s.paddingBottom = 0; };

new Chart(document.getElementById('c'), {
  type: 'bar',
  data: {datasets: datasets},
  options: {
    responsive: false, animation: false, devicePixelRatio: 1, events: [],
    layout: {autoPadding: false, padding: {left: 3, top: 3, right: 0, bottom: 0}},
    plugins: {legend: {display: false}, tooltip: {enabled: false}},
    scales: {
      x: {
        type: 'linear', position: 'bottom', min: X_MIN, max: X_MAX, offset: false,
        afterBuildTicks: s => { const t = []; for (let v = 0; v <= X_MAX; v += 16) t.push({value: v}); s.ticks = t; },
        afterFit: s => { s.height = 35; zeroPad(s); },
        grid: {color: '#c4c4c4', lineWidth: 1, borderDash: [3, 3], offset: false, drawTicks: true,
          tickLength: 5, tickBorderDash: [],
          tickColor: c => (c.tick && c.tick.value % 32 === 0 && c.tick.value <= 704) ? '#000000' : 'rgba(0,0,0,0)'},
        border: {display: false, dash: [3, 3]},
        ticks: {autoSkip: false, maxRotation: 0, minRotation: 0, align: 'start', padding: 2,
          color: '#000000', font: {family: '"Liberation Sans Narrow", "Liberation Sans", Arial, sans-serif', size: 19},
          callback: v => (v % 32 === 0 && xTickLabels[v / 32] !== undefined) ? xTickLabels[v / 32] : ''}
      },
      y: {
        type: 'linear', position: 'right', min: Y_MIN, max: Y_MAX,
        afterBuildTicks: s => { s.ticks = yTicks.map(v => ({value: v})); },
        afterFit: s => { s.width = 93; zeroPad(s); },
        grid: {color: '#c4c4c4', lineWidth: 1, borderDash: [3, 3], drawTicks: true,
          tickLength: 4, tickColor: '#000000', tickBorderDash: []},
        border: {display: false, dash: [3, 3]},
        ticks: {autoSkip: false, padding: 6, color: '#000000', font: {size: 18},
          callback: v => Number(v).toFixed(5)}
      }
    }
  },
  plugins: [deco]
});
</script>
</body></html>
